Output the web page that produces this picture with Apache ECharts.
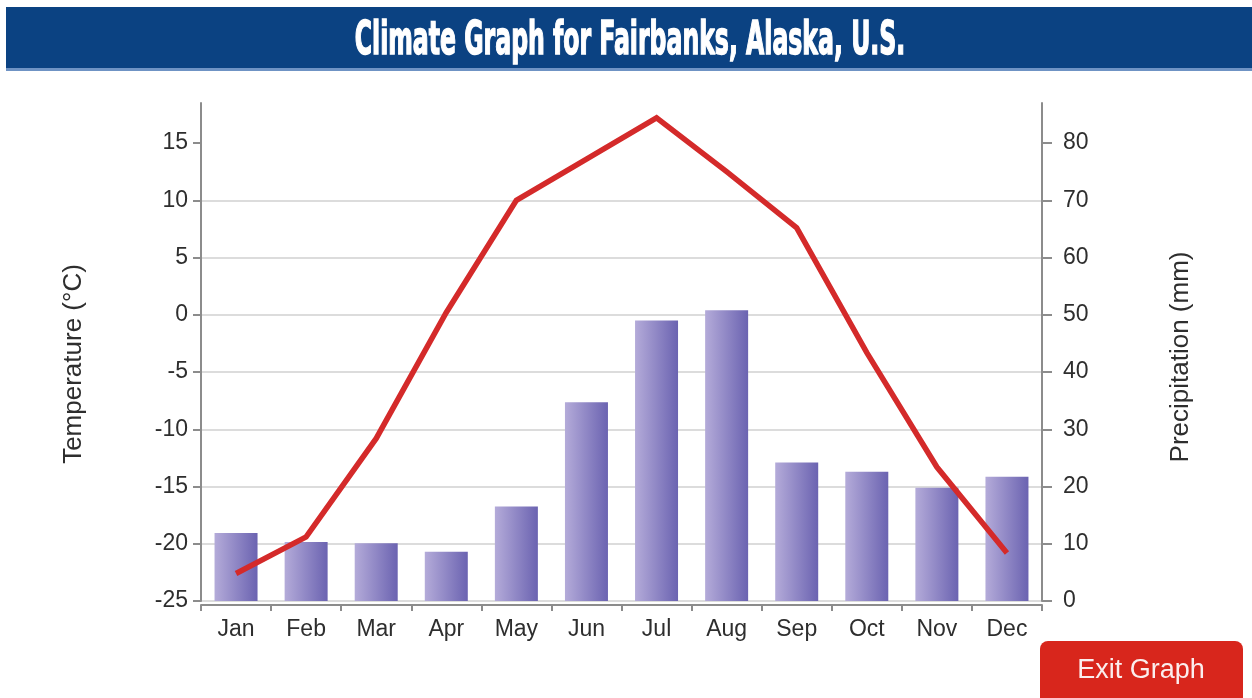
<!DOCTYPE html>
<html>
<head>
<meta charset="utf-8">
<title>Climate Graph for Fairbanks, Alaska, U.S.</title>
<script src="https://cdn.jsdelivr.net/npm/echarts@6/dist/echarts.min.js"></script>
<style>
  html, body { margin: 0; padding: 0; background: #ffffff; }
  #chart { width: 1252px; height: 698px; }
</style>
</head>
<body>
<div id="chart"></div>
<script>
// Monthly climate normals for Fairbanks
const months = ['Jan', 'Feb', 'Mar', 'Apr', 'May', 'Jun', 'Jul', 'Aug', 'Sep', 'Oct', 'Nov', 'Dec'];
const temperatureC = [-22.6, -19.4, -10.8, 0.2, 10.0, 13.6, 17.2, 12.5, 7.6, -3.3, -13.3, -20.8];
const precipitationMm = [11.9, 10.3, 10.1, 8.6, 16.5, 34.7, 49.0, 50.8, 24.2, 22.6, 19.8, 21.7];
const tempTicks = [-25, -20, -15, -10, -5, 0, 5, 10, 15];
const precipTicks = [0, 10, 20, 30, 40, 50, 60, 70, 80];

const chart = echarts.init(document.getElementById('chart'), null, { renderer: 'canvas' });

const axisGrey = '#8c8c8c';
const labelColor = '#2e2e2e';
const sans = '"Liberation Sans", Arial, sans-serif';

chart.setOption({
  backgroundColor: '#ffffff',
  animation: false,
  grid: { left: 201, right: 210, top: 103, bottom: 97, containLabel: false },
  graphic: [
    // header banner
    {
      type: 'rect',
      shape: { x: 6, y: 7, width: 1246, height: 62 },
      style: { fill: '#0b4282' },
      silent: true
    },
    {
      type: 'rect',
      shape: { x: 6, y: 68, width: 1246, height: 3 },
      style: { fill: '#6f93c4' },
      silent: true
    },
    {
      type: 'text',
      x: 630,
      y: 42,
      scaleX: 0.57,
      scaleY: 1.0,
      style: {
        text: 'Climate Graph for Fairbanks, Alaska, U.S.',
        fill: '#ffffff',
        stroke: '#ffffff',
        lineWidth: 1.5,
        font: 'bold 46px "Liberation Sans Narrow", "DejaVu Sans Condensed", sans-serif',
        align: 'center',
        verticalAlign: 'middle'
      },
      silent: true
    },
    // exit button
    {
      type: 'rect',
      shape: { x: 1040, y: 641, width: 203, height: 70, r: 8 },
      style: { fill: '#d8261c' },
      silent: true
    },
    {
      type: 'text',
      x: 1141,
      y: 671,
      style: {
        text: 'Exit Graph',
        fill: '#fbeeee',
        font: '27px ' + sans,
        align: 'center',
        verticalAlign: 'middle'
      },
      silent: true
    }
  ],
  xAxis: {
    type: 'category',
    data: months,
    boundaryGap: true,
    offset: 4,
    axisLine: { show: true, onZero: false, lineStyle: { color: axisGrey, width: 2 } },
    axisTick: { show: true, length: 6, alignWithLabel: false, lineStyle: { color: axisGrey, width: 2 } },
    axisLabel: {
      color: labelColor,
      fontSize: 23,
      fontFamily: sans,
      margin: 13
    },
    splitLine: { show: false }
  },
  yAxis: [
    {
      type: 'value',
      position: 'left',
      min: -25,
      max: 18.5,
      interval: 5,
      name: 'Temperature (°C)',
      nameLocation: 'middle',
      nameGap: 114,
      nameRotate: 90,
      nameTextStyle: { color: labelColor, fontSize: 26, fontFamily: sans, padding: [0, 24, 0, 0] },
      axisLine: { show: true, lineStyle: { color: axisGrey, width: 2 } },
      axisTick: {
        show: true,
        length: 8,
        customValues: tempTicks,
        lineStyle: { color: axisGrey, width: 2 }
      },
      axisLabel: {
        color: labelColor,
        fontSize: 23,
        fontFamily: sans,
        margin: 13,
        customValues: tempTicks
      },
      splitLine: {
        show: true,
        showMinLine: true,
        showMaxLine: false,
        lineStyle: { color: '#dcdcdc', width: 2 }
      }
    },
    {
      type: 'value',
      position: 'right',
      min: 0,
      max: 87,
      interval: 10,
      name: 'Precipitation (mm)',
      nameLocation: 'middle',
      nameGap: 126,
      nameRotate: 90,
      nameTextStyle: { color: labelColor, fontSize: 26, fontFamily: sans, padding: [0, 10, 0, 0] },
      axisLine: { show: true, lineStyle: { color: axisGrey, width: 2 } },
      axisTick: {
        show: true,
        length: 10,
        customValues: precipTicks,
        lineStyle: { color: axisGrey, width: 2 }
      },
      axisLabel: {
        color: labelColor,
        fontSize: 23,
        fontFamily: sans,
        margin: 21,
        customValues: precipTicks
      },
      splitLine: { show: false }
    }
  ],
  series: [
    {
      name: 'Precipitation',
      type: 'bar',
      yAxisIndex: 1,
      data: precipitationMm,
      barWidth: 43,
      itemStyle: {
        color: new echarts.graphic.LinearGradient(0, 0, 1, 0, [
          { offset: 0, color: '#b4abd9' },
          { offset: 1, color: '#6b63b1' }
        ])
      },
      z: 2
    },
    {
      name: 'Temperature',
      type: 'line',
      yAxisIndex: 0,
      data: temperatureC,
      symbol: 'none',
      lineStyle: { color: '#d42a2a', width: 5.5, join: 'miter' },
      z: 3
    }
  ]
});
</script>
</body>
</html>
